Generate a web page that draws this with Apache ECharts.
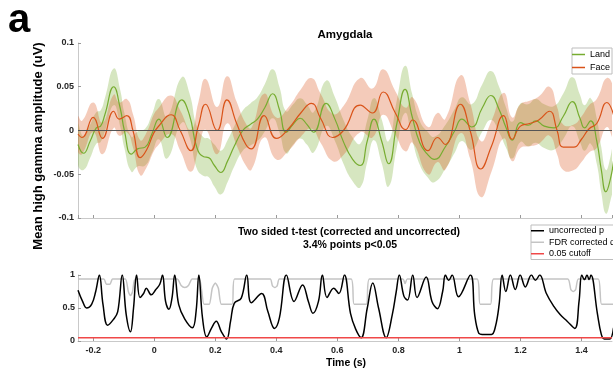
<!DOCTYPE html>
<html>
<head>
<meta charset="utf-8">
<script src="https://cdn.jsdelivr.net/npm/echarts@6/dist/echarts.min.js"></script>
<style>
  html, body { margin: 0; padding: 0; background: #fff; }
  #chart { width: 613px; height: 374px; }
</style>
</head>
<body>
<div id="chart"></div>
<script>
// time window (s)
var timeMin = -0.25, timeMax = 1.5;

// [time, mean amplitude, half width of shaded band]
var landCurve = [
  [-0.25, -0.016, 0.023], [-0.232, -0.026, 0.019], [-0.21, -0.012, 0.019], [-0.19, 0.003, 0.018],
  [-0.176, 0.005, 0.018], [-0.162, 0.018, 0.019], [-0.133, 0.050, 0.021], [-0.112, 0.026, 0.021],
  [-0.098, 0.0, 0.02], [-0.075, -0.027, 0.02], [-0.055, -0.021, 0.02], [-0.03, -0.019, 0.021],
  [-0.008, -0.004, 0.022], [0.015, 0.013, 0.023], [0.042, -0.008, 0.024], [0.09, 0.035, 0.026],
  [0.115, 0.018, 0.025], [0.14, -0.02, 0.024], [0.162, -0.03, 0.022], [0.178, -0.031, 0.022],
  [0.197, -0.04, 0.024], [0.218, -0.048, 0.025], [0.24, -0.035, 0.024], [0.262, -0.018, 0.023],
  [0.29, 0.0, 0.023], [0.315, 0.007, 0.024], [0.338, 0.013, 0.025], [0.362, 0.026, 0.027],
  [0.388, 0.042, 0.028], [0.41, 0.024, 0.026], [0.432, -0.002, 0.024], [0.455, 0.007, 0.023],
  [0.478, 0.014, 0.023], [0.50, 0.007, 0.023], [0.522, -0.002, 0.023], [0.563, 0.031, 0.026],
  [0.592, 0.013, 0.025], [0.62, -0.013, 0.025], [0.65, -0.033, 0.025], [0.675, -0.040, 0.025],
  [0.698, -0.012, 0.024], [0.72, 0.013, 0.024], [0.745, -0.012, 0.025], [0.768, -0.038, 0.026],
  [0.795, 0.008, 0.027], [0.822, 0.047, 0.027], [0.845, 0.016, 0.026], [0.87, -0.014, 0.025],
  [0.895, -0.027, 0.026], [0.918, -0.033, 0.026], [0.955, -0.018, 0.025], [0.985, 0.0, 0.025],
  [1.008, 0.013, 0.025], [1.04, 0.004, 0.026], [1.075, 0.026, 0.027], [1.103, 0.040, 0.028],
  [1.13, 0.024, 0.026], [1.152, 0.004, 0.023], [1.173, -0.011, 0.021], [1.2, 0.009, 0.022],
  [1.225, 0.006, 0.024], [1.25, 0.011, 0.025], [1.278, 0.005, 0.025], [1.31, 0.003, 0.025],
  [1.34, 0.016, 0.026], [1.37, 0.033, 0.028], [1.395, 0.014, 0.027], [1.41, 0.003, 0.026],
  [1.43, 0.011, 0.026], [1.45, -0.012, 0.026], [1.465, -0.045, 0.026], [1.48, -0.07, 0.025],
  [1.495, -0.055, 0.025], [1.505, -0.035, 0.025]
];

var faceCurve = [
  [-0.25, -0.004, 0.02], [-0.237, -0.008, 0.019], [-0.2, 0.015, 0.017], [-0.17, -0.009, 0.018],
  [-0.133, 0.022, 0.019], [-0.115, 0.013, 0.019], [-0.09, 0.017, 0.019], [-0.07, 0.0, 0.019],
  [-0.046, -0.031, 0.02], [-0.025, -0.022, 0.02], [-0.002, -0.003, 0.021], [0.012, 0.004, 0.021],
  [0.055, 0.018, 0.022], [0.085, 0.0, 0.023], [0.12, -0.023, 0.024], [0.145, 0.006, 0.027],
  [0.168, 0.030, 0.029], [0.206, 0.0, 0.027], [0.238, 0.035, 0.027], [0.27, 0.008, 0.025],
  [0.3, -0.016, 0.024], [0.318, -0.021, 0.024], [0.36, 0.017, 0.025], [0.4, -0.009, 0.024],
  [0.44, 0.002, 0.025], [0.48, 0.02, 0.027], [0.515, 0.031, 0.029], [0.545, 0.014, 0.028],
  [0.585, -0.008, 0.027], [0.62, 0.0, 0.028], [0.675, 0.029, 0.031], [0.715, 0.02, 0.028],
  [0.75, 0.044, 0.026], [0.79, 0.02, 0.025], [0.824, 0.001, 0.025], [0.846, 0.012, 0.026],
  [0.897, -0.023, 0.027], [0.928, -0.008, 0.028], [0.953, -0.016, 0.029], [1.003, 0.030, 0.033],
  [1.035, 0.0, 0.032], [1.07, -0.044, 0.032], [1.105, -0.018, 0.029], [1.145, 0.017, 0.026],
  [1.173, -0.01, 0.025], [1.2, 0.005, 0.025], [1.23, 0.008, 0.026], [1.26, 0.012, 0.027],
  [1.295, 0.022, 0.028], [1.32, 0.0, 0.027], [1.34, -0.019, 0.026], [1.375, -0.019, 0.026],
  [1.4, -0.01, 0.026], [1.425, 0.002, 0.027], [1.45, 0.008, 0.028], [1.483, 0.032, 0.028],
  [1.505, 0.018, 0.028]
];

// two sided t-test, [time, p]
var uncorrectedP = [
  [-0.25, 0.77], [-0.235, 0.6], [-0.222, 0.5], [-0.205, 0.56], [-0.192, 0.75], [-0.18, 1.0],
  [-0.168, 0.55], [-0.153, 0.24], [-0.135, 0.32], [-0.12, 0.44], [-0.105, 1.0], [-0.092, 0.4],
  [-0.078, 0.14], [-0.068, 0.5], [-0.058, 1.0], [-0.047, 0.66], [-0.035, 0.72], [-0.026, 0.8],
  [-0.01, 0.7], [0.005, 0.78], [0.018, 0.86], [0.027, 1.0], [0.037, 0.6], [0.048, 0.48],
  [0.058, 0.65], [0.067, 1.0], [0.08, 0.55], [0.1, 0.33], [0.125, 0.2], [0.137, 0.45],
  [0.146, 1.0], [0.158, 0.35], [0.172, 0.06], [0.188, 0.2], [0.203, 0.3], [0.22, 0.14],
  [0.237, 0.03], [0.25, 0.3], [0.262, 0.57], [0.285, 0.65], [0.303, 1.0], [0.318, 0.58],
  [0.352, 0.72], [0.372, 0.45], [0.394, 0.19], [0.41, 0.35], [0.433, 1.0], [0.458, 0.6],
  [0.486, 0.85], [0.505, 0.6], [0.52, 0.42], [0.538, 0.6], [0.551, 1.0], [0.566, 0.66],
  [0.588, 0.8], [0.605, 0.72], [0.623, 1.0], [0.643, 0.42], [0.66, 0.18], [0.678, 0.05],
  [0.698, 0.5], [0.716, 0.88], [0.735, 0.5], [0.76, 0.05], [0.78, 0.4], [0.793, 0.75],
  [0.803, 1.0], [0.818, 0.68], [0.83, 0.62], [0.847, 1.0], [0.861, 0.66], [0.891, 0.97],
  [0.91, 0.6], [0.928, 0.49], [0.945, 0.75], [0.954, 1.0], [0.965, 0.92], [0.976, 1.0],
  [0.997, 0.67], [1.036, 1.0], [1.05, 0.4], [1.063, 0.12], [1.075, 0.1], [1.105, 0.1],
  [1.118, 0.22], [1.13, 0.55], [1.14, 1.0], [1.152, 0.75], [1.167, 1.0], [1.183, 0.78],
  [1.199, 1.0], [1.216, 0.82], [1.236, 1.0], [1.249, 0.92], [1.263, 1.0], [1.285, 0.72],
  [1.31, 0.52], [1.33, 0.4], [1.353, 0.3], [1.378, 0.19], [1.392, 0.6], [1.401, 1.0],
  [1.41, 0.93], [1.418, 1.0], [1.425, 0.93], [1.431, 1.0], [1.452, 0.42], [1.465, 0.1],
  [1.475, 0.03], [1.492, 0.03], [1.505, 0.2]
];

// FDR corrected q, [time, q]
var fdrQ = [
  [-0.25, 0.94], [-0.165, 0.94], [-0.157, 0.86], [-0.145, 0.86], [-0.137, 0.94], [-0.095, 0.94],
  [-0.085, 0.75], [-0.078, 0.69], [-0.071, 0.75], [-0.062, 0.94], [0.075, 0.94], [0.088, 0.84],
  [0.1, 0.81], [0.112, 0.84], [0.124, 0.94], [0.148, 0.94], [0.163, 0.556], [0.18, 0.556],
  [0.19, 0.8], [0.2, 0.88], [0.21, 0.8], [0.22, 0.556], [0.255, 0.556], [0.263, 0.94],
  [0.38, 0.94], [0.387, 0.84], [0.395, 0.81], [0.403, 0.84], [0.41, 0.94], [0.645, 0.94],
  [0.655, 0.556], [0.695, 0.556], [0.705, 0.94], [0.815, 0.94], [0.822, 0.87], [0.829, 0.94],
  [1.058, 0.94], [1.068, 0.556], [1.102, 0.556], [1.112, 0.94], [1.355, 0.94], [1.365, 0.78],
  [1.373, 0.75], [1.381, 0.78], [1.39, 0.94], [1.455, 0.94], [1.466, 0.556], [1.505, 0.556]
];

var cutoff = 0.05;

var font = 'Liberation Sans, Arial, sans-serif';
var landColor = '#77AC30', faceColor = '#D95319';
var axisGray = '#c9c9c9';

function pick(curve, fn) { return curve.map(function (r) { return [r[0], fn(r)]; }); }

// shaded band (mean +- half width) as one smoothed polygon
function bandSeries(curve, fill) {
  var upper = pick(curve, function (r) { return r[1] + r[2]; });
  var lower = pick(curve, function (r) { return r[1] - r[2]; });
  return {
    type: 'custom', silent: true, clip: true, z: 1,
    data: curve.map(function (r) { return [r[0], r[1] - r[2], r[1] + r[2]]; }),
    encode: { x: 0, y: [1, 2] },
    renderItem: function (params, api) {
      if (params.dataIndex !== 0) return null;
      var pts = upper.map(function (p) { return api.coord(p); })
        .concat(lower.slice().reverse().map(function (p) { return api.coord(p); }));
      return { type: 'polygon', shape: { points: pts, smooth: 0.5 }, style: { fill: fill } };
    }
  };
}

var tickLabel = { fontSize: 9, fontWeight: 'bold', color: '#262626', fontFamily: font };

var chart = echarts.init(document.getElementById('chart'));
chart.setOption({
  animation: false,
  backgroundColor: '#fff',
  grid: [
    { left: 78, right: 1, top: 43, height: 175 },
    { left: 78, right: 1, top: 275, height: 66 }
  ],
  xAxis: [0, 1].map(function (i) {
    return {
      type: 'value', gridIndex: i, min: timeMin, max: timeMax, splitNumber: 9,
      axisLine: { show: true, onZero: false, lineStyle: { color: axisGray } },
      axisTick: { show: true, inside: true, length: 3, lineStyle: { color: '#999' } },
      splitLine: { show: false },
      axisLabel: Object.assign({ show: i === 1, margin: 5, showMinLabel: false, showMaxLabel: false }, tickLabel)
    };
  }),
  yAxis: [
    { type: 'value', gridIndex: 0, min: -0.1, max: 0.1, interval: 0.05,
      axisLine: { show: true, onZero: false, lineStyle: { color: axisGray } },
      axisTick: { show: true, inside: true, length: 3, lineStyle: { color: '#999' } },
      splitLine: { show: false },
      axisLabel: Object.assign({ margin: 4 }, tickLabel) },
    { type: 'value', gridIndex: 1, min: 0, max: 1, interval: 0.5,
      axisLine: { show: true, onZero: false, lineStyle: { color: axisGray } },
      axisTick: { show: true, inside: true, length: 3, lineStyle: { color: '#999' } },
      splitLine: { show: false },
      axisLabel: Object.assign({ margin: 3 }, tickLabel) }
  ],
  legend: [{
    data: ['Land', 'Face'], orient: 'vertical', left: 572, top: 48,
    icon: 'rect', itemWidth: 13, itemHeight: 1.5, itemGap: 0, padding: [0, 2, 0, 0],
    borderColor: '#bdbdbd', borderWidth: 1, backgroundColor: '#fff', selectedMode: false,
    textStyle: { fontSize: 9, lineHeight: 13, color: '#000', fontFamily: font }
  }, {
    data: ['uncorrected p', 'FDR corrected q', '0.05 cutoff'], orient: 'vertical', left: 531, top: 225,
    icon: 'rect', itemWidth: 13, itemHeight: 1.5, itemGap: 0, padding: [0, 2, 0, 0],
    borderColor: '#bdbdbd', borderWidth: 1, backgroundColor: '#fff', selectedMode: false,
    textStyle: { fontSize: 9, lineHeight: 11.5, color: '#000', fontFamily: font }
  }],
  graphic: [
    { type: 'text', x: 8, y: 21, style: { text: 'a', font: 'bold 40px ' + font, fill: '#000', align: 'left', verticalAlign: 'middle' } },
    { type: 'text', x: 38, y: 146, rotation: Math.PI / 2,
      style: { text: 'Mean high gamma amplitude (uV)', font: 'bold 13px ' + font, fill: '#000', align: 'center', verticalAlign: 'middle' } },
    { type: 'text', x: 345, y: 35, style: { text: 'Amygdala', font: 'bold 11.5px ' + font, fill: '#000', align: 'center', verticalAlign: 'middle' } },
    { type: 'text', x: 349, y: 232, style: { text: 'Two sided t-test (corrected and uncorrected)', font: 'bold 10.5px ' + font, fill: '#000', align: 'center', verticalAlign: 'middle' } },
    { type: 'text', x: 350, y: 245, style: { text: '3.4% points p<0.05', font: 'bold 10.5px ' + font, fill: '#000', align: 'center', verticalAlign: 'middle' } },
    { type: 'text', x: 346, y: 363, style: { text: 'Time (s)', font: 'bold 10.5px ' + font, fill: '#000', align: 'center', verticalAlign: 'middle' } }
  ],
  series: [
    bandSeries(landCurve, 'rgba(119,172,48,0.3)'),
    bandSeries(faceCurve, 'rgba(217,83,25,0.3)'),
    {
      name: 'Land', type: 'line', smooth: 0.5, symbol: 'none', color: landColor, z: 3,
      lineStyle: { width: 1.2 }, data: pick(landCurve, function (r) { return r[1]; }),
      markLine: { silent: true, symbol: 'none', label: { show: false },
        lineStyle: { color: '#555', width: 1, type: 'solid' }, data: [{ yAxis: 0 }] }
    }, {
      name: 'Face', type: 'line', smooth: 0.5, symbol: 'none', color: faceColor, z: 3,
      lineStyle: { width: 1.2 }, data: pick(faceCurve, function (r) { return r[1]; })
    }, {
      name: 'FDR corrected q', type: 'line', xAxisIndex: 1, yAxisIndex: 1, smooth: 0.2,
      symbol: 'none', color: '#c4c4c4', lineStyle: { width: 1.5 }, data: fdrQ
    }, {
      name: 'uncorrected p', type: 'line', xAxisIndex: 1, yAxisIndex: 1, smooth: 0.4,
      symbol: 'none', color: '#000', lineStyle: { width: 1.5 }, data: uncorrectedP
    }, {
      name: '0.05 cutoff', type: 'line', xAxisIndex: 1, yAxisIndex: 1, symbol: 'none',
      color: '#f04848', lineStyle: { width: 1.5 }, data: [[timeMin, cutoff], [timeMax, cutoff]]
    }
  ]
});
</script>
</body>
</html>
